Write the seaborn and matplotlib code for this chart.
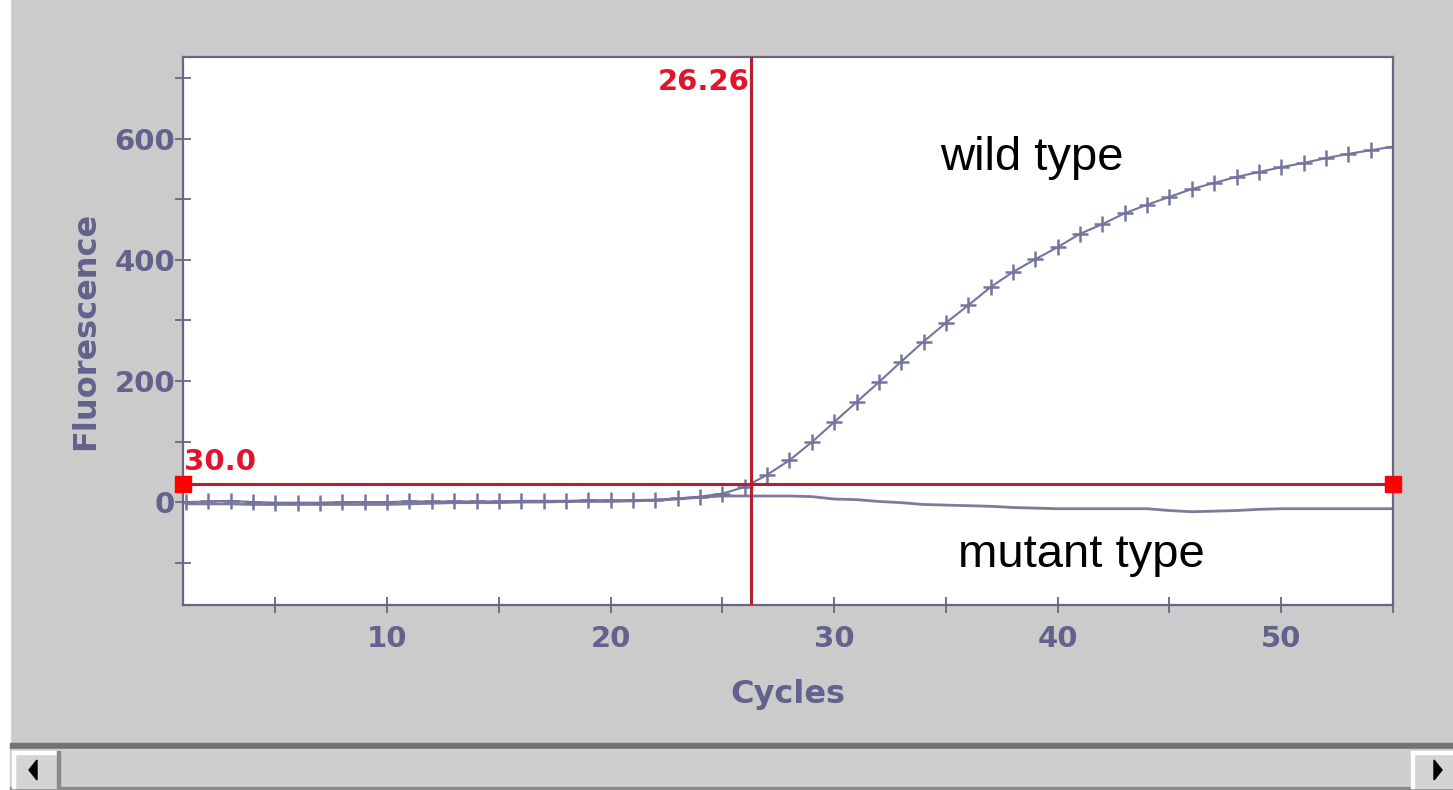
import pandas as pd
import seaborn as sns
import matplotlib.pyplot as plt
from matplotlib.patches import Rectangle, Polygon
from matplotlib.ticker import MultipleLocator

# qPCR amplification data
cycles = list(range(1, 56))
wild_type = [0, 1, 2, 0, -1, -1, -1, 0, 0, 0,
             1, 1, 1, 1, 1, 2, 2, 2, 3, 3,
             3, 4, 6, 9, 14, 25, 45, 69, 99, 132,
             165, 198, 232, 265, 296, 325, 355, 380, 401, 421,
             443, 459, 477, 491, 504, 517, 527, 537, 545, 553,
             560, 568, 575, 581, 587]
mutant_type = [-3, -3, -3, -4, -4, -4, -4, -4, -4, -4,
               -3, -2, -1, -1, -1, 0, 0, 1, 1, 1,
               2, 3, 5, 8, 10, 10, 10, 10, 9, 5,
               4, 1, -1, -4, -5, -6, -7, -9, -10, -11,
               -11, -11, -11, -11, -14, -16, -15, -14, -12, -11,
               -11, -11, -11, -11, -11]
threshold = 30.0
ct_value = 26.26
x_range = (0.87, 55.0)
y_range = (-170, 735)

df = pd.DataFrame({'Cycles': cycles, 'wild type': wild_type,
                   'mutant type': mutant_type})

sns.set_style('white')
plt.rcParams['font.family'] = ['DejaVu Sans']

bg = '#cbcbcb'
line_col = '#7474a0'
frame_col = '#666680'
label_col = '#62628c'
red_line = '#b81f2e'
red_text = '#e0142c'

fig = plt.figure(figsize=(14.53, 7.90), dpi=100, facecolor=bg)
ax = fig.add_axes([183 / 1453, 185 / 790, 1210 / 1453, 548 / 790])
ax.set_facecolor('white')

# the two curves
sns.lineplot(data=df, x='Cycles', y='mutant type', color='#7c7c98',
             linewidth=2, ax=ax)
sns.lineplot(data=df, x='Cycles', y='wild type', color=line_col,
             linewidth=1.5, marker='+', markersize=11,
             markeredgecolor=line_col, markeredgewidth=1.8, ax=ax)

# threshold and Ct cursor
ax.axhline(threshold, color=red_line, lw=2.2, zorder=3)
ax.axvline(ct_value, color=red_line, lw=2.2, zorder=3)
ax.plot(list(x_range), [threshold, threshold], 's', color='#ff0000',
        markersize=11, clip_on=False, zorder=6)

ax.set_xlim(*x_range)
ax.set_ylim(*y_range)

ax.xaxis.set_major_locator(MultipleLocator(10))
ax.xaxis.set_minor_locator(MultipleLocator(5))
ax.yaxis.set_major_locator(MultipleLocator(200))
ax.yaxis.set_minor_locator(MultipleLocator(100))
ax.tick_params(which='both', direction='inout', length=11.5, width=1.3,
               color=frame_col, bottom=True, left=True)
ax.tick_params(axis='x', which='major', pad=9, labelsize=21,
               labelcolor=label_col)
ax.tick_params(axis='y', which='major', pad=0, labelsize=21,
               labelcolor=label_col)
for lbl in ax.get_xticklabels() + ax.get_yticklabels():
    lbl.set_fontweight('bold')

for sp in ax.spines.values():
    sp.set_visible(True)
    sp.set_color(frame_col)
    sp.set_linewidth(1.6)

ax.set_xlabel('Cycles', fontsize=23, fontweight='bold', color=label_col)
ax.set_ylabel('Fluorescence', fontsize=23, fontweight='bold', color=label_col)
ax.xaxis.set_label_coords(0.5, -0.135)
ax.yaxis.set_label_coords(-0.068, 0.5)

# value labels
ax.text(ct_value - 0.05, 693, f'{ct_value:.2f}', color=red_text, fontsize=21,
        fontweight='bold', ha='right', va='center', zorder=7)
ax.text(x_range[0] + 0.05, 66, f'{threshold:.1f}', color=red_text,
        fontsize=21, fontweight='bold', ha='left', va='center', zorder=7)

ax.text(34.74, 569, 'wild type', fontsize=34, family='Liberation Sans',
        color='black', ha='left', va='center')
ax.text(35.55, -87, 'mutant type', fontsize=34, family='Liberation Sans',
        color='black', ha='left', va='center')

# window chrome: left strip and horizontal scrollbar
W, H = 1453, 790


def box(x, y, w, h, c):
    fig.patches.append(Rectangle((x / W, 1 - (y + h) / H), w / W, h / H,
                                 transform=fig.transFigure, color=c,
                                 zorder=0))


box(0, 0, 10, H, 'white')
box(10, 743, W - 10, 6, '#737373')
box(10, 749, W - 10, 41, '#cfcfcf')
box(10, 787, W - 10, 3, '#8a8a8a')
# left arrow button
box(12, 751, 48, 37, '#d4d4d4')
box(12, 751, 3, 37, 'white')
box(12, 751, 48, 3, 'white')
box(57, 751, 3, 37, '#8a8a8a')
# right arrow button
box(1411, 751, 42, 37, '#d4d4d4')
box(1411, 751, 3, 37, 'white')
box(1411, 751, 42, 3, 'white')
fig.patches.append(Polygon([(29 / W, 1 - 770 / H), (37 / W, 1 - 760 / H),
                            (37 / W, 1 - 780 / H)], closed=True,
                           transform=fig.transFigure, color='black'))
fig.patches.append(Polygon([(1442 / W, 1 - 770 / H), (1434 / W, 1 - 760 / H),
                            (1434 / W, 1 - 780 / H)], closed=True,
                           transform=fig.transFigure, color='black'))

fig.savefig('out.png', dpi=100, facecolor=bg)
